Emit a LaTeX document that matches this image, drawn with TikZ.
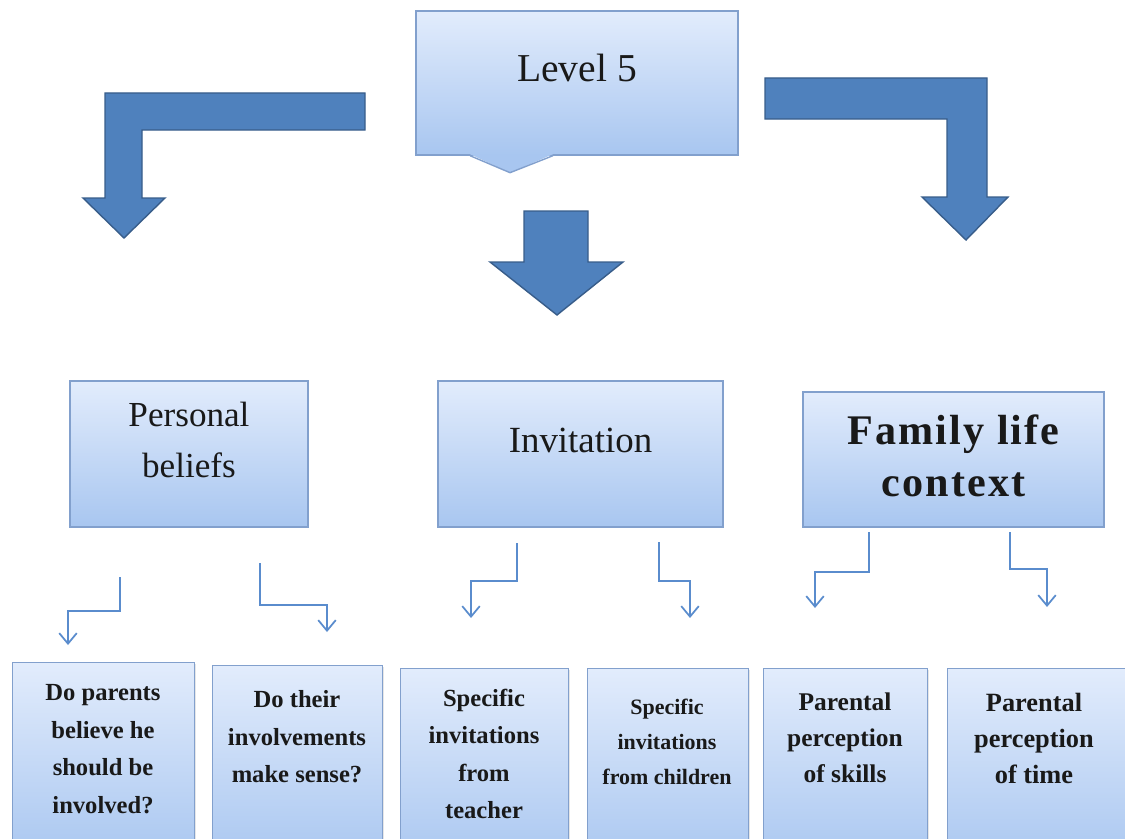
\documentclass[tikz,border=0pt]{standalone}
\usepackage{fontspec}
\setmainfont{Liberation Serif}
\newfontfamily\widefont[LetterSpace=5]{Liberation Serif}
\usepackage{xcolor}
\usepackage{tikz}
\usetikzlibrary{arrows.meta,shadows}

\definecolor{boxtop}{RGB}{226,236,252}
\definecolor{boxbot}{RGB}{168,198,240}
\definecolor{boxline}{RGB}{130,160,205}
\definecolor{arrowblue}{RGB}{79,129,189}
\definecolor{arrowedge}{RGB}{56,93,138}
\definecolor{linkblue}{RGB}{90,140,205}
\definecolor{inkgray}{RGB}{25,25,25}

\begin{document}
\begin{tikzpicture}[x=0.02cm,y=-0.02cm,
box/.style={draw=boxline,line width=0.8pt,top color=boxtop,bottom color=boxbot,inner sep=0pt,
  drop shadow={opacity=0.2,shadow xshift=0.8pt,shadow yshift=-0.8pt}},
bigarrow/.style={fill=arrowblue,draw=arrowedge,line width=0.8pt,line join=miter},
smallarrow/.style={draw=linkblue,line width=1pt,-{Straight Barb[length=6pt,width=10pt]}},
headtext/.style={text=inkgray,align=center,font=\fontsize{20}{29.5}\selectfont},
qtext/.style={text=inkgray,align=center,font=\bfseries\fontsize{14}{21.3}\selectfont}
]
\useasboundingbox (0,0) rectangle (1125,838);
\clip (0,0) rectangle (1125,838);

% The top box
\node[box,minimum width=6.44cm,minimum height=2.88cm] (lvl) at (577,83) {};
\fill[boxbot] ([xshift=-2.14cm,yshift=0.03cm]lvl.south) -- ([xshift=-1.34cm,yshift=-0.34cm]lvl.south) -- ([xshift=-0.48cm,yshift=0.03cm]lvl.south) -- cycle;
\draw[boxline,line width=0.8pt] ([xshift=-2.14cm]lvl.south) -- ([xshift=-1.34cm,yshift=-0.34cm]lvl.south) -- ([xshift=-0.48cm]lvl.south);
\node[headtext,font=\fontsize{22.5}{26}\selectfont] (lvltext) at (577,68) {Level 5};

% The big arrows
\filldraw[bigarrow] (365,93) -- (105,93) -- (105,198) -- (83,198) -- (124,238) -- (165,198) -- (142,198) -- (142,130) -- (365,130) -- cycle;
\filldraw[bigarrow] (524,211) -- (588,211) -- (588,262) -- (623,262) -- (557,315) -- (490,262) -- (524,262) -- cycle;
\filldraw[bigarrow] (765,78) -- (987,78) -- (987,197) -- (1008,197) -- (966,240) -- (922,197) -- (947,197) -- (947,119) -- (765,119) -- cycle;

% The middle row
\node[box,minimum width=4.76cm,minimum height=2.92cm] (pb) at (189,454) {};
\node[headtext] (pbtext) at (189,440) {Personal\\beliefs};
\node[box,minimum width=5.7cm,minimum height=2.92cm] (inv) at (580.5,454) {};
\node[headtext,font=\fontsize{21}{26}\selectfont] (invtext) at (580.5,440) {Invitation};
\node[box,minimum width=6.02cm,minimum height=2.7cm] (flc) at (953.5,459.5) {};
\node[headtext,font=\widefont\bfseries\fontsize{24}{29.5}\selectfont] (flctext) at (953.5,456) {Family life\\context};

% The bottom row
\node[box,anchor=north west,minimum width=3.64cm,minimum height=4cm] (q1) at (12,662) {};
\node[box,anchor=north west,minimum width=3.4cm,minimum height=4cm] (q2) at (212,665) {};
\node[box,anchor=north west,minimum width=3.36cm,minimum height=4cm] (q3) at (400,668) {};
\node[box,anchor=north west,minimum width=3.22cm,minimum height=4cm] (q4) at (587,668) {};
\node[box,anchor=north west,minimum width=3.28cm,minimum height=4cm] (q5) at (763,668) {};
\node[box,anchor=north west,minimum width=3.8cm,minimum height=4cm] (q6) at (947,668) {};
\node[qtext] (q1text) at (103,749) {Do parents\\believe he\\should be\\involved?};
\node[qtext] (q2text) at (297,737) {Do their\\involvements\\make sense?};
\node[qtext] (q3text) at (484,754) {Specific\\invitations\\from\\teacher};
\node[qtext,font=\bfseries\fontsize{12.5}{20}\selectfont] (q4text) at (667,742) {Specific\\invitations\\from children};
\node[qtext,font=\bfseries\fontsize{14.5}{20.5}\selectfont] (q5text) at (845,738) {Parental\\perception\\of skills};
\node[qtext,font=\bfseries\fontsize{15}{20.5}\selectfont] (q6text) at (1034,738) {Parental\\perception\\of time};

% The small arrows
\coordinate (pbL) at (120,577);
\coordinate (pbR) at (260,563);
\coordinate (invL) at (517,543);
\coordinate (invR) at (659,542);
\coordinate (flcL) at (869,532);
\coordinate (flcR) at (1010,532);
\coordinate (q1in) at (68,645);
\coordinate (q2in) at (327,632);
\coordinate (q3in) at (471,618);
\coordinate (q4in) at (690,618);
\coordinate (q5in) at (815,608);
\coordinate (q6in) at (1047,607);
\draw[smallarrow] (pbL) -- ++(0,34) -| (q1in);
\draw[smallarrow] (pbR) -- ++(0,42) -| (q2in);
\draw[smallarrow] (invL) -- ++(0,38) -| (q3in);
\draw[smallarrow] (invR) -- ++(0,39) -| (q4in);
\draw[smallarrow] (flcL) -- ++(0,40) -| (q5in);
\draw[smallarrow] (flcR) -- ++(0,37) -| (q6in);
\end{tikzpicture}
\end{document}
